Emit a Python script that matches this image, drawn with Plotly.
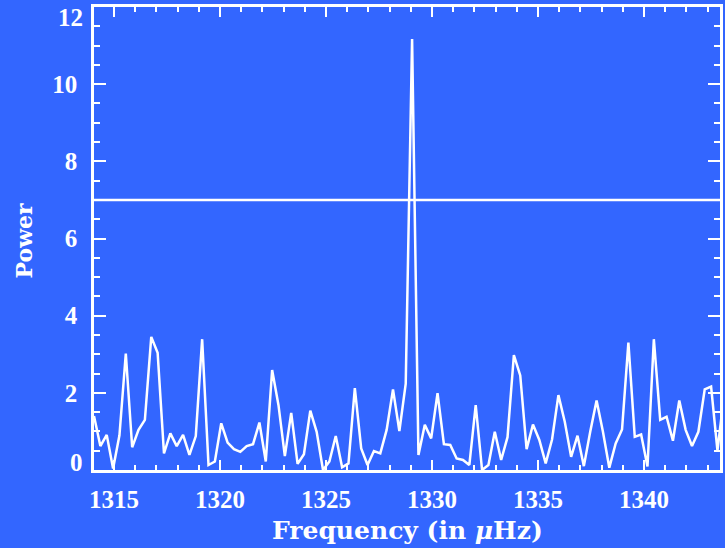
import numpy as np
import plotly.graph_objects as go

# ---- data ----
freq_start = 1314.06   # µHz
freq_step = 0.30       # µHz
power = [1.40, 0.62, 0.91, 0.04, 0.90, 3.02, 0.59, 1.04, 1.30, 3.45,
         3.04, 0.43, 0.95, 0.62, 0.91, 0.39, 0.88, 3.39, 0.13, 0.22,
         1.21, 0.71, 0.54, 0.47, 0.62, 0.67, 1.23, 0.22, 2.59, 1.68,
         0.36, 1.48, 0.16, 0.41, 1.54, 0.99, 0.00, 0.22, 0.88, 0.07,
         0.17, 2.12, 0.56, 0.13, 0.49, 0.43, 1.04, 2.09, 1.01, 2.24,
         11.17, 0.39, 1.17, 0.82, 1.99, 0.67, 0.65, 0.30, 0.26, 0.13,
         1.68, 0.00, 0.13, 0.99, 0.26, 0.85, 2.98, 2.45, 0.54, 1.18,
         0.78, 0.17, 0.79, 1.94, 1.25, 0.34, 0.89, 0.10, 0.99, 1.80,
         0.99, 0.06, 0.69, 1.05, 3.30, 0.86, 0.92, 0.09, 3.39, 1.30,
         1.38, 0.76, 1.80, 1.04, 0.62, 0.99, 2.09, 2.16, 0.50, 1.90]
frequency = [round(freq_start + i * freq_step, 2) for i in range(len(power))]
threshold = 7.0
x_range = [1314.06, 1343.58]
y_range = [0, 12]
x_tickvals = [1315, 1320, 1325, 1330, 1335, 1340]
y_tickvals = [0, 2, 4, 6, 8, 10, 12]
x_title = "Frequency (in <i>μ</i>Hz)"
y_title = "Power"

BG = "#3366FF"
FG = "white"

fig = go.Figure()
fig.add_trace(go.Scatter(x=frequency, y=power, mode="lines",
                         line=dict(color=FG, width=2.5), hoverinfo="skip"))
fig.add_trace(go.Scatter(x=x_range, y=[threshold, threshold], mode="lines",
                         line=dict(color=FG, width=2.5), hoverinfo="skip"))

tickfont = dict(family="Liberation Serif", size=25, color=FG, weight="bold")

# edge labels (0 and 12) are nudged inward, as in the reference
y_ticktext = ["" if v in (y_range[0], y_range[1]) else str(v) for v in y_tickvals]

fig.update_layout(
    width=725, height=548,
    margin=dict(l=94, r=2, t=7, b=78),
    paper_bgcolor=BG, plot_bgcolor=BG,
    showlegend=False,
    xaxis=dict(range=x_range, tickvals=x_tickvals, showgrid=False, zeroline=False,
               showline=True, linecolor=FG, linewidth=2.5, mirror="allticks",
               ticks="inside", ticklen=10, tickwidth=2, tickcolor=FG,
               tickfont=tickfont, ticklabelstandoff=5,
               minor=dict(dtick=1, ticks="inside", ticklen=5, tickwidth=2,
                          tickcolor=FG, showgrid=False)),
    yaxis=dict(range=y_range, tickvals=y_tickvals, ticktext=y_ticktext,
               showgrid=False, zeroline=False,
               showline=True, linecolor=FG, linewidth=2.5, mirror="allticks",
               ticks="inside", ticklen=12, tickwidth=2, tickcolor=FG,
               tickfont=tickfont, ticklabelstandoff=9,
               minor=dict(dtick=0.5, ticks="inside", ticklen=6, tickwidth=2,
                          tickcolor=FG, showgrid=False)),
    annotations=[
        dict(text=x_title, xref="paper", yref="paper", x=0.5, y=0,
             yshift=-60, xanchor="center", yanchor="middle", showarrow=False,
             font=dict(family="DejaVu Serif", size=25, color=FG, weight="bold")),
        dict(text=y_title, xref="paper", yref="paper", x=0, y=0.5,
             xshift=-71, yshift=-2, xanchor="center", yanchor="middle",
             textangle=-90, showarrow=False,
             font=dict(family="DejaVu Serif", size=22, color=FG, weight="bold")),
        dict(text=str(y_tickvals[-1]), xref="paper", yref="y", x=0, y=y_range[1],
             xshift=-9, yshift=-10, xanchor="right", yanchor="middle",
             showarrow=False, font=tickfont),
        dict(text=str(y_tickvals[0]), xref="paper", yref="y", x=0, y=y_range[0],
             xshift=-9, yshift=8, xanchor="right", yanchor="middle",
             showarrow=False, font=tickfont),
    ],
)

fig.write_html("out.html")
